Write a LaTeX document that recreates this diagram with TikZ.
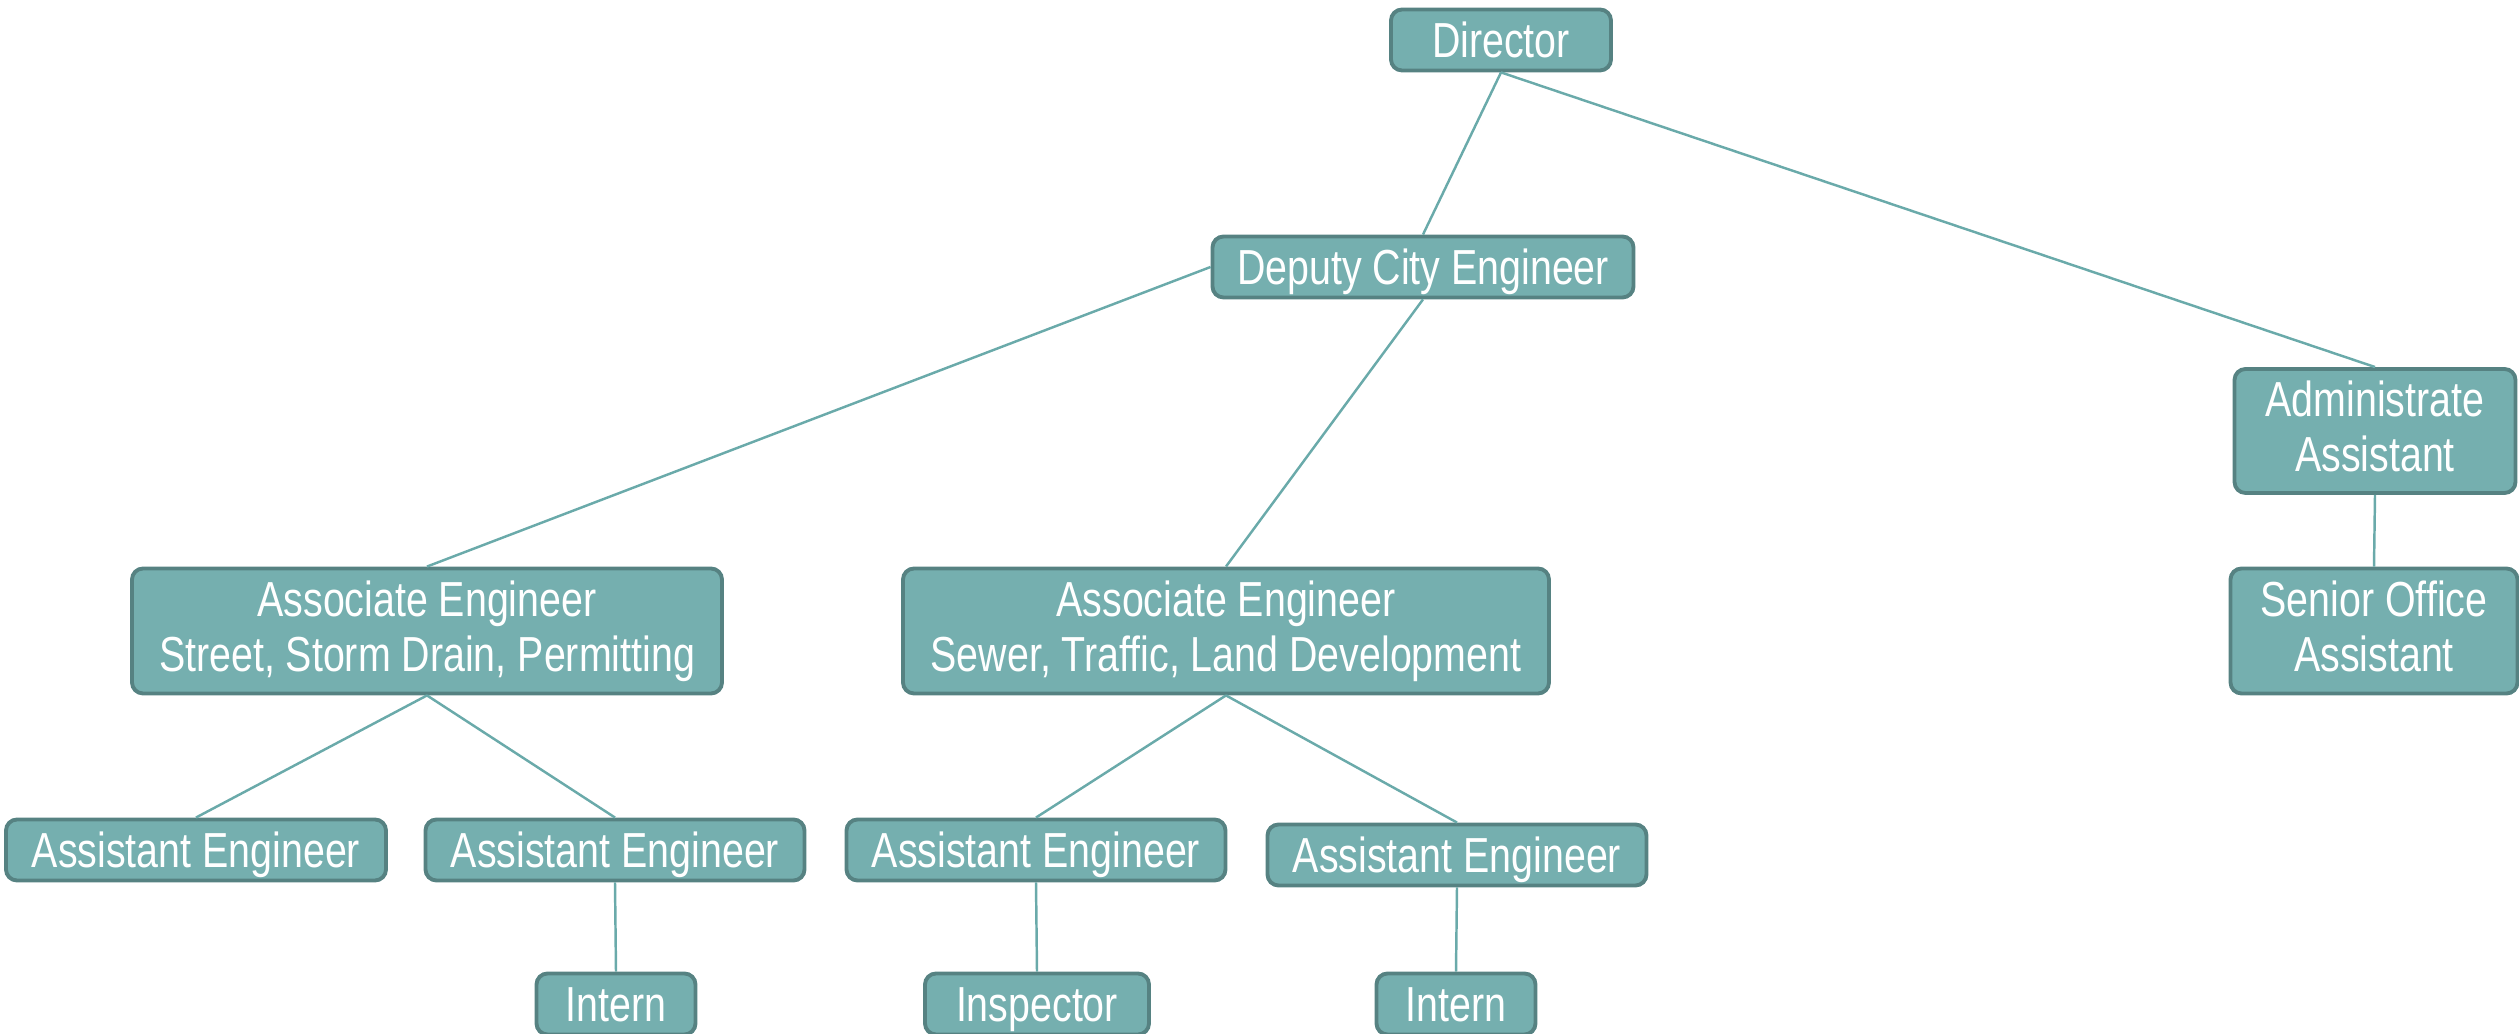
\documentclass[tikz,border=0pt]{standalone}
\usepackage{fontspec}
\setmainfont{Liberation Sans}[FakeStretch=0.8]
\usepackage{tikz}

\definecolor{boxfill}{RGB}{117,175,175}
\definecolor{boxline}{RGB}{86,130,130}
\definecolor{linkcol}{RGB}{106,170,170}

\newcommand{\boxstrut}{\rule[-0.2em]{0pt}{1.1em}}

\begin{document}
\begin{tikzpicture}[
        box/.style={rectangle, rounded corners=0.11cm, draw=boxline, fill=boxfill,
            line width=1.1pt, inner sep=0pt, align=center, text=white,
            font=\fontsize{14}{15.6}\selectfont,
            execute at begin node=\boxstrut, execute at end node=\boxstrut},
        link/.style={draw=linkcol, line width=0.7pt},
    ]

    \useasboundingbox (0,0) rectangle (25.19,10.34);

    \node[box, minimum width=2.20cm, minimum height=0.61cm] (dir) at (15.01,9.94) {Director};
    \node[box, minimum width=4.21cm, minimum height=0.61cm] (dce) at (14.23,7.67) {Deputy City Engineer};
    \node[box, minimum width=2.81cm, minimum height=1.24cm] (adm) at (23.75,6.03) {Administrate\\Assistant};
    \node[box, minimum width=2.87cm, minimum height=1.25cm] (soa) at (23.74,4.03) {Senior Office\\Assistant};
    \node[box, minimum width=5.90cm, minimum height=1.25cm] (ase1) at (4.27,4.03) {Associate Engineer\\Street, Storm Drain, Permitting};
    \node[box, minimum width=6.46cm, minimum height=1.25cm] (ase2) at (12.26,4.03) {Associate Engineer\\Sewer, Traffic, Land Development};

    \node[box, minimum width=3.80cm, minimum height=0.61cm] (ae1) at (1.96,1.84) {Assistant Engineer};
    \node[box, minimum width=3.79cm, minimum height=0.61cm] (ae2) at (6.15,1.84) {Assistant Engineer};
    \node[box, minimum width=3.79cm, minimum height=0.61cm] (ae3) at (10.36,1.84) {Assistant Engineer};
    \node[box, minimum width=3.79cm, minimum height=0.61cm] (ae4) at (14.57,1.79) {Assistant Engineer};

    \node[box, minimum width=1.59cm, minimum height=0.61cm] (int1) at (6.16,0.30) {Intern};
    \node[box, minimum width=2.24cm, minimum height=0.61cm] (insp) at (10.37,0.30) {Inspector};
    \node[box, minimum width=1.59cm, minimum height=0.61cm] (int2) at (14.56,0.30) {Intern};

    \draw[link] (dir.south) -- (dce.north);
    \draw[link] (dir.south) -- (adm.north);
    \draw[link] (adm.south) -- (soa.north);
    \draw[link] (dce.west) -- (ase1.north);
    \draw[link] (dce.south) -- (ase2.north);
    \draw[link] (ase1.south) -- (ae1.north);
    \draw[link] (ase1.south) -- (ae2.north);
    \draw[link] (ase2.south) -- (ae3.north);
    \draw[link] (ase2.south) -- (ae4.north);
    \draw[link] (ae2.south) -- (int1.north);
    \draw[link] (ae3.south) -- (insp.north);
    \draw[link] (ae4.south) -- (int2.north);
\end{tikzpicture}
\end{document}
